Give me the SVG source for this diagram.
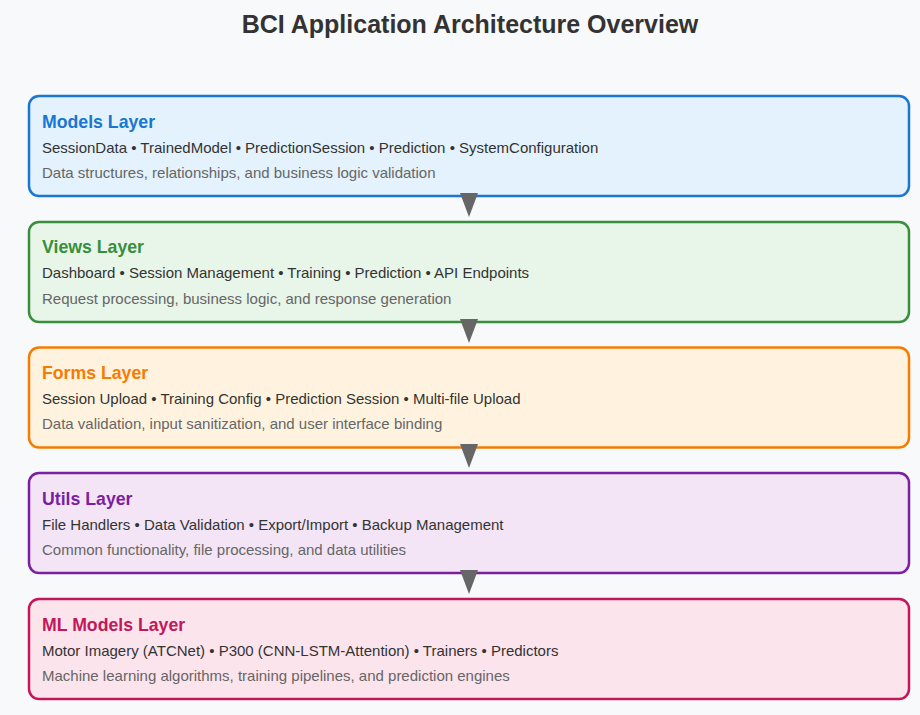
<svg xmlns="http://www.w3.org/2000/svg" width="920" height="715" viewBox="0 0 920 715">
  <style>
    text { font-family: "Liberation Sans", Arial, sans-serif; }
    .title { font-size: 25px; font-weight: bold; fill: #333; }
    .box { stroke-width: 2.5; }
    .name { font-size: 17.7px; font-weight: bold; }
    .items { font-size: 15px; fill: #333; }
    .desc { font-size: 15px; fill: #666; }
    .arrow { fill: #666; }
  </style>
  <rect width="920" height="715" fill="#f8f9fa"/>
  <text class="title" x="470" y="33" text-anchor="middle">BCI Application Architecture Overview</text>

  <g id="models">
    <rect class="box" x="29" y="96" width="880" height="100" rx="10" fill="#e3f2fd" stroke="#1976d2"/>
    <text class="name" x="42" y="128" fill="#1976d2">Models Layer</text>
    <text class="items" x="42" y="153">SessionData • TrainedModel • PredictionSession • Prediction • SystemConfiguration</text>
    <text class="desc" x="42" y="178">Data structures, relationships, and business logic validation</text>
  </g>
  <g id="views">
    <rect class="box" x="29" y="222" width="880" height="100" rx="10" fill="#e8f5e9" stroke="#388e3c"/>
    <text class="name" x="42" y="253" fill="#388e3c">Views Layer</text>
    <text class="items" x="42" y="278">Dashboard • Session Management • Training • Prediction • API Endpoints</text>
    <text class="desc" x="42" y="304">Request processing, business logic, and response generation</text>
  </g>
  <g id="forms">
    <rect class="box" x="29" y="347.5" width="880" height="100" rx="10" fill="#fff3e0" stroke="#f57c00"/>
    <text class="name" x="42" y="379" fill="#f57c00">Forms Layer</text>
    <text class="items" x="42" y="404">Session Upload • Training Config • Prediction Session • Multi-file Upload</text>
    <text class="desc" x="42" y="429">Data validation, input sanitization, and user interface binding</text>
  </g>
  <g id="utils">
    <rect class="box" x="29" y="473" width="880" height="100" rx="10" fill="#f3e5f5" stroke="#7b1fa2"/>
    <text class="name" x="42" y="505" fill="#7b1fa2">Utils Layer</text>
    <text class="items" x="42" y="530">File Handlers • Data Validation • Export/Import • Backup Management</text>
    <text class="desc" x="42" y="555">Common functionality, file processing, and data utilities</text>
  </g>
  <g id="ml-models">
    <rect class="box" x="29" y="599" width="880" height="100" rx="10" fill="#fce4ec" stroke="#c2185b"/>
    <text class="name" x="42" y="631" fill="#c2185b">ML Models Layer</text>
    <text class="items" x="42" y="656">Motor Imagery (ATCNet) • P300 (CNN-LSTM-Attention) • Trainers • Predictors</text>
    <text class="desc" x="42" y="681">Machine learning algorithms, training pipelines, and prediction engines</text>
  </g>

  <g id="connectors">
    <polygon class="arrow" points="460,193 478,193 469,217"/>
    <polygon class="arrow" points="460,319 478,319 469,343"/>
    <polygon class="arrow" points="460,444 478,444 469,468"/>
    <polygon class="arrow" points="460,570 478,570 469,594"/>
  </g>
</svg>
